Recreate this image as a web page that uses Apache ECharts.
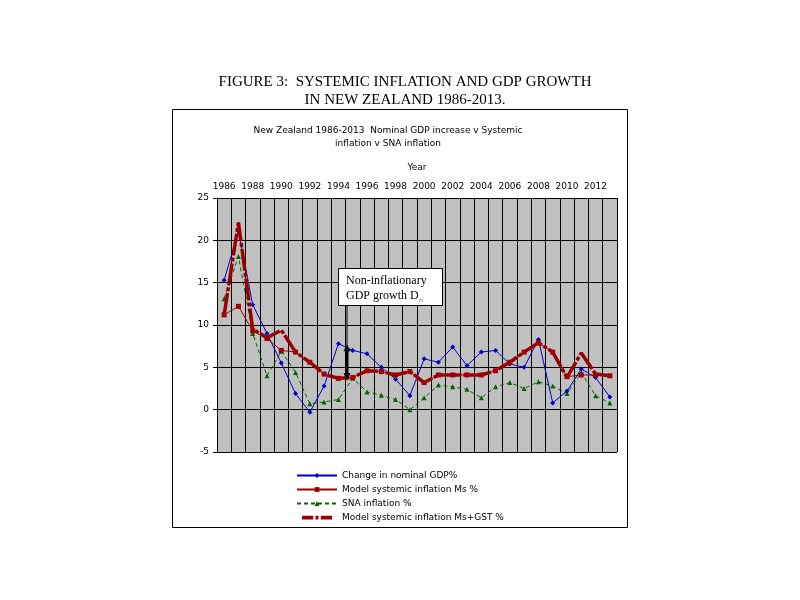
<!DOCTYPE html>
<html>
<head>
<meta charset="utf-8">
<script src="https://cdn.jsdelivr.net/npm/echarts@6/dist/echarts.min.js"></script>
<style>
html,body{margin:0;padding:0;background:#fff;}
#chart{width:800px;height:600px;}
</style>
</head>
<body>
<div id="chart"></div>
<script>
const years = ['1986','1987','1988','1989','1990','1991','1992','1993','1994','1995','1996','1997','1998','1999','2000','2001','2002','2003','2004','2005','2006','2007','2008','2009','2010','2011','2012','2013'];
const nominalGdp = [15.3, 21.1, 12.4, 9.0, 5.5, 1.9, -0.3, 2.8, 7.8, 7.0, 6.6, 5.0, 3.6, 1.65, 6.0, 5.6, 7.4, 5.2, 6.8, 7.0, 5.4, 5.0, 8.3, 0.8, 2.2, 4.8, 3.8, 1.5];
const modelMs = [11.2, 12.2, 9.3, 8.4, 7.0, 6.8, 5.6, 4.2, 3.7, 3.8, 4.6, 4.5, 4.1, 4.5, 3.2, 4.1, 4.1, 4.1, 4.1, 4.6, 5.6, 6.8, 7.9, 6.8, 3.9, 4.1, 4.1, 4.0];
const snaInflation = [13.1, 18.1, 9.0, 4.0, 6.9, 4.4, 0.7, 0.9, 1.2, 3.7, 2.1, 1.7, 1.2, 0.0, 1.4, 2.9, 2.7, 2.4, 1.4, 2.7, 3.2, 2.5, 3.3, 2.8, 1.9, 4.4, 1.65, 0.8];
const modelMsGst = [11.2, 22.1, 9.5, 8.5, 9.4, 6.8, 5.6, 4.2, 3.7, 3.8, 4.6, 4.5, 4.1, 4.5, 3.2, 4.1, 4.1, 4.1, 4.1, 4.6, 5.6, 6.8, 7.9, 6.8, 3.8, 6.7, 4.2, 4.0];
const seriesNames = ['Change in nominal GDP%', 'Model systemic inflation Ms %', 'SNA inflation %', 'Model systemic inflation Ms+GST %'];
const titleLines = ['FIGURE 3:  SYSTEMIC INFLATION AND GDP GROWTH', 'IN NEW ZEALAND 1986-2013.'];
const subtitleLines = ['New Zealand 1986-2013  Nominal GDP increase v Systemic', 'inflation v SNA inflation'];
const yTicks = {min: -5, max: 25, interval: 5};
const annotation = {year: '1994', nextYear: '1995', frac: 0.6, top: 7.6, bottom: 3.6};

const sans = 'DejaVu Sans';
const serif = 'Liberation Serif';
const chart = echarts.init(document.getElementById('chart'), null, {renderer: 'canvas'});

const dashDotIcon = 'path://M0,0L40,0L40,0Z M0,8L40,8L40,8Z M0,1.5h15v5h-15z M18,1.5h4v5h-4z M25,1.5h15v5h-15z';

const option = {
  backgroundColor: '#ffffff',
  animation: false,
  title: [
    {text: titleLines.join('\n'), left: 400, top: 68, textAlign: 'center',
     textStyle: {fontFamily: serif, fontSize: 15, fontWeight: 'normal', color: '#000', lineHeight: 18}},
    {text: subtitleLines.join('\n'), left: 383, top: 119, textAlign: 'center',
     textStyle: {fontFamily: sans, fontSize: 9, fontWeight: 'normal', color: '#000', lineHeight: 13}}
  ],
  grid: {left: 217, right: 183, top: 198, bottom: 148, show: true, backgroundColor: '#c0c0c0', borderWidth: 0},
  legend: {
    orient: 'vertical', left: 296, top: 471, padding: 0, itemWidth: 40, itemHeight: 6, itemGap: 5,
    textStyle: {fontFamily: sans, fontSize: 9, color: '#000'},
    data: [
      {name: seriesNames[0]},
      {name: seriesNames[1]},
      {name: seriesNames[2]},
      {name: seriesNames[3], icon: dashDotIcon}
    ]
  },
  xAxis: {
    type: 'category', position: 'top', data: years, boundaryGap: true,
    name: 'Year', nameLocation: 'middle', nameGap: 26,
    nameTextStyle: {fontFamily: sans, fontSize: 9, color: '#000'},
    axisLine: {show: true, lineStyle: {color: '#000', width: 1}},
    axisTick: {show: true, interval: 0, length: 4, lineStyle: {color: '#000'}},
    axisLabel: {interval: 1, fontFamily: sans, fontSize: 9, color: '#000', margin: 7},
    splitLine: {show: true, interval: 0, lineStyle: {color: '#000', width: 1}}
  },
  yAxis: {
    type: 'value', min: yTicks.min, max: yTicks.max, interval: yTicks.interval,
    axisLine: {show: true, lineStyle: {color: '#000', width: 1}},
    axisTick: {show: true, length: 4, lineStyle: {color: '#000'}},
    axisLabel: {fontFamily: sans, fontSize: 9, color: '#000', margin: 8},
    splitLine: {show: true, lineStyle: {color: '#000', width: 1}}
  },
  series: [
    {name: seriesNames[0], type: 'line', data: nominalGdp, color: '#0000cc',
     lineStyle: {width: 1, color: '#0000cc'}, symbol: 'diamond', symbolSize: 5,
     itemStyle: {color: '#0000cc'}, z: 3},
    {name: seriesNames[1], type: 'line', data: modelMs, color: '#a00000',
     lineStyle: {width: 1, color: '#a00000'}, symbol: 'rect', symbolSize: 5,
     itemStyle: {color: '#a00000'}, z: 6},
    {name: seriesNames[2], type: 'line', data: snaInflation, color: '#006600',
     lineStyle: {width: 1, color: '#006600', type: [4, 3]}, symbol: 'triangle', symbolSize: 5,
     itemStyle: {color: '#006600'}, z: 2},
    {name: seriesNames[3], type: 'line', data: modelMsGst, color: '#990000',
     lineStyle: {width: 3.5, color: '#990000', type: [22, 2, 4, 2]}, symbol: 'none',
     itemStyle: {color: '#990000'}, z: 5}
  ]
};
chart.setOption(option);

function drawAnnotation() {
  const x0 = chart.convertToPixel({xAxisIndex: 0}, annotation.year);
  const x1 = chart.convertToPixel({xAxisIndex: 0}, annotation.nextYear);
  const ax = x0 + (x1 - x0) * annotation.frac;
  const yTop = chart.convertToPixel({yAxisIndex: 0}, annotation.top);
  const yBot = chart.convertToPixel({yAxisIndex: 0}, annotation.bottom);
  const boxX = 338, boxY = 268, boxW = 104, boxH = 37;
  chart.setOption({
    graphic: [
      {type: 'rect', shape: {x: 172.5, y: 109.5, width: 455, height: 418}, style: {fill: 'none', stroke: '#000', lineWidth: 1}, z: 0, silent: true},
      {type: 'line', shape: {x1: ax, y1: boxY + boxH, x2: ax, y2: yTop}, style: {stroke: '#000', lineWidth: 1}, z: 10},
      {type: 'line', shape: {x1: ax, y1: yTop + 4, x2: ax, y2: yBot - 4}, style: {stroke: '#000', lineWidth: 3}, z: 10},
      {type: 'polygon', shape: {points: [[ax, yTop - 1], [ax - 3.5, yTop + 6], [ax + 3.5, yTop + 6]]}, style: {fill: '#000'}, z: 10},
      {type: 'polygon', shape: {points: [[ax, yBot + 1], [ax - 3.5, yBot - 6], [ax + 3.5, yBot - 6]]}, style: {fill: '#000'}, z: 10},
      {type: 'rect', shape: {x: boxX + 0.5, y: boxY + 0.5, width: boxW, height: boxH}, style: {fill: '#fff', stroke: '#000', lineWidth: 1}, z: 10},
      {type: 'text', x: boxX + 8, y: boxY + 5, z: 11,
       style: {text: '{a|Non-inflationary}\n{a|GDP growth D}{b|m}', rich: {
         a: {fontFamily: serif, fontSize: 12, fill: '#000', lineHeight: 15},
         b: {fontFamily: serif, fontSize: 6, fill: '#999', lineHeight: 15, verticalAlign: 'bottom', padding: [6, 0, 0, 0]}
       }}}
    ]
  });
}
drawAnnotation();
</script>
</body>
</html>
